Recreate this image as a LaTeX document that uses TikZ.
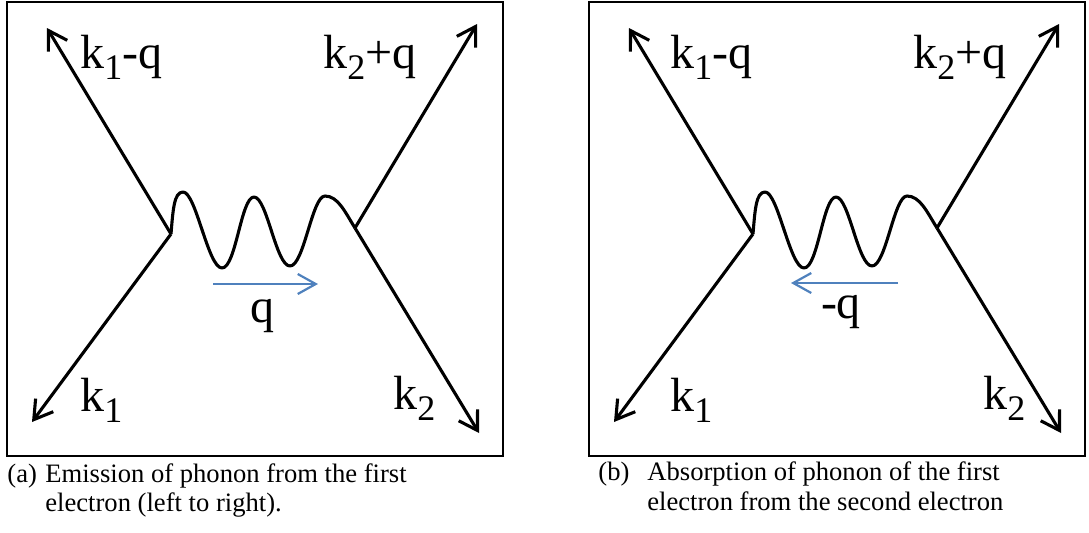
\documentclass[tikz,border=0pt]{standalone}
\usepackage{fontspec}
\setmainfont{Liberation Serif}
\usetikzlibrary{arrows.meta}
\definecolor{qblue}{RGB}{79,129,189}
\newcommand{\ksub}[1]{k\raisebox{-5.5pt}{\fontsize{18}{20}\selectfont #1}}
\tikzset{
  panelbox/.style={draw=black,line width=1.1pt},
  electron/.style={line width=1.55pt,-{Straight Barb[length=9pt,width=11pt]}},
  phonon/.style={line width=1.55pt,line join=round},
  momentum/.style={draw=qblue,line width=1.1pt,-{Straight Barb[length=9pt,width=10pt]}},
  lbl/.style={font=\fontsize{24}{28}\selectfont,inner sep=0pt,anchor=base west},
  capt/.style={font=\fontsize{13.3}{16}\selectfont,inner sep=0pt,anchor=base west}
}

\begin{document}
\begin{tikzpicture}[x=0.5pt,y=-0.5pt]
  \useasboundingbox (0,0) rectangle (1089,532);
  % both panels share the vertex, the wiggle and the four electron lines
  \foreach \p/\dx/\lx in {a/0/0,b/582/8} {
    \begin{scope}[shift={(\dx,0)}]
      \draw[panelbox] (7,2) rectangle (503,456);
      \coordinate (v1-\p) at (171,234);
      \coordinate (v2-\p) at (355,228);
      \coordinate (tl-\p) at (47,28);
      \coordinate (bl-\p) at (32,422);
      \coordinate (tr-\p) at (477,24);
      \coordinate (br-\p) at (479,433);
      \coordinate (w1-\p) at (183,192);
      \coordinate (w2-\p) at (222,268);
      \coordinate (w3-\p) at (254,197);
      \coordinate (w4-\p) at (290,266);
      \coordinate (w5-\p) at (325,196);
      \draw[electron] (v1-\p) -- (tl-\p);
      \draw[electron] (v1-\p) -- (bl-\p);
      \draw[electron] (v2-\p) -- (tr-\p);
      \draw[electron] (v2-\p) -- (br-\p);
      \draw[phonon] (v1-\p) .. controls +(2,-24) and +(-9,0) .. (w1-\p)
        .. controls +(13,0) and +(-14,0) .. (w2-\p)
        .. controls +(14,0) and +(-13,0) .. (w3-\p)
        .. controls +(13,0) and +(-14,0) .. (w4-\p)
        .. controls +(14,0) and +(-13,0) .. (w5-\p)
        .. controls +(13,0) and +(-10,-16) .. (v2-\p);
      \node[lbl] (kmq-\p) at (80+\lx,68) {\ksub{1}-q};
      \node[lbl] (kpq-\p) at (323+\lx,68) {\ksub{2}+q};
      \node[lbl] (k1-\p) at (80+\lx,411) {\ksub{1}};
      \node[lbl] (k2-\p) at (393+\lx,409) {\ksub{2}};
    \end{scope}
  }
  % phonon momentum
  \coordinate (qa-s) at (213,284);
  \coordinate (qa-e) at (318,284);
  \draw[momentum] (qa-s) -- (qa-e);
  \node[lbl,anchor=base] (qa) at (262,322) {q};
  \coordinate (qb-s) at (898,283);
  \coordinate (qb-e) at (791,283);
  \draw[momentum] (qb-s) -- (qb-e);
  \node[lbl,anchor=base] (qb) at (841,318) {-q};
  % captions
  \node[capt] (capa) at (7,482) {(a)};
  \node[capt] (capa1) at (45,482) {Emission of phonon from the first};
  \node[capt] (capa2) at (45,511) {electron (left to right).};
  \node[capt] (capb) at (598,480) {(b)};
  \node[capt] (capb1) at (647,480) {Absorption of phonon of the first};
  \node[capt] (capb2) at (647,510) {electron from the second electron};
\end{tikzpicture}
\end{document}
